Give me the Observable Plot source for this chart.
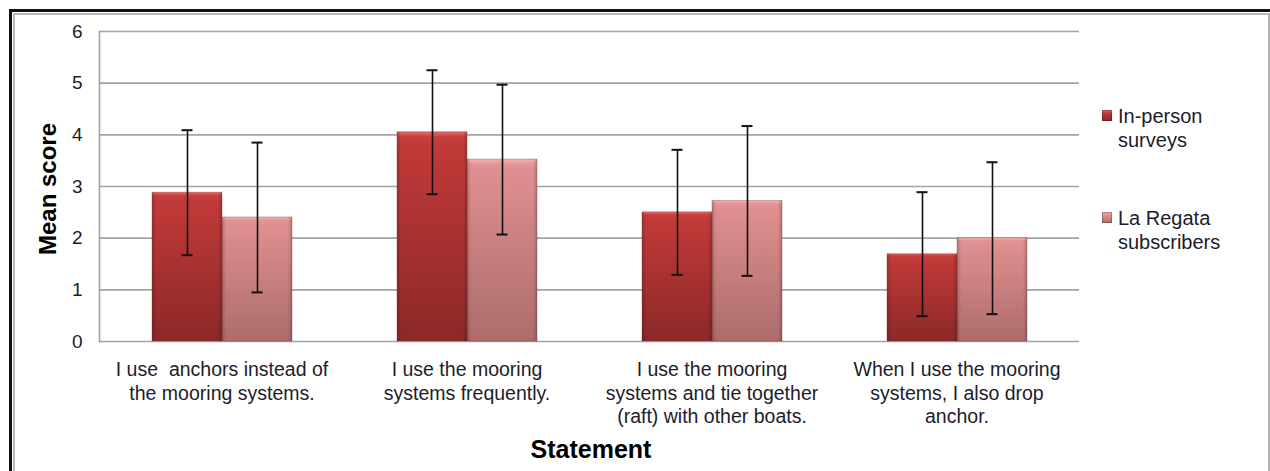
<!DOCTYPE html>
<html>
<head>
<meta charset="utf-8">
<script src="https://cdn.jsdelivr.net/npm/d3@7"></script>
<script src="https://cdn.jsdelivr.net/npm/@observablehq/plot@0.6"></script>
<style>
  html, body { margin: 0; padding: 0; background: #fff; }
  #wrap { position: relative; width: 1270px; height: 471px; overflow: hidden; font-family: "Liberation Sans", Arial, sans-serif; color: #1c1c2c; }
  #outer1 { position: absolute; left: 9px; top: 9px; width: 1300px; height: 600px; border-top: 3px solid #111; border-left: 3px solid #111; }
  #outer2 { position: absolute; left: 13px; top: 13px; width: 1253px; height: 600px; border-top: 2px solid #b8b8b8; border-left: 2px solid #b8b8b8; border-right: 3px solid #b0b0b0; }
  #chart { position: absolute; left: 0; top: 0; }
  #ytitle { position: absolute; left: 48px; top: 189px; transform: translate(-50%, -50%) rotate(-90deg); font-weight: bold; font-size: 24px; white-space: nowrap; color: #000; }
  #xtitle { position: absolute; left: 591px; top: 449px; transform: translate(-50%, -50%); font-weight: bold; font-size: 25px; white-space: nowrap; color: #000; }
  #legend { position: absolute; left: 1102px; top: 104px; font-size: 20px; line-height: 24px; }
  .item { position: relative; padding-left: 16px; margin-bottom: 54px; }
  .sw { position: absolute; left: 0; top: 6px; width: 10px; height: 11px; box-shadow: inset 0 0 0 1px rgba(0,0,0,0.25); }
</style>
</head>
<body>
<div id="wrap">
  <div id="outer1"></div>
  <div id="outer2"></div>
  <div id="chart"></div>
  <div id="ytitle">Mean score</div>
  <div id="xtitle">Statement</div>
  <div id="legend"></div>
</div>
<script>
const categories = [
  "I use anchors instead of the mooring systems.",
  "I use the mooring systems frequently.",
  "I use the mooring systems and tie together (raft) with other boats.",
  "When I use the mooring systems, I also drop anchor."
];
const tickLabels = [
  "I use  anchors instead of\nthe mooring systems.",
  "I use the mooring\nsystems frequently.",
  "I use the mooring\nsystems and tie together\n(raft) with other boats.",
  "When I use the mooring\nsystems, I also drop\nanchor."
];
const series = ["In-person surveys", "La Regata subscribers"];
const legendLabels = ["In-person<br>surveys", "La Regata<br>subscribers"];
const inPersonMean = [2.88, 4.05, 2.50, 1.69];
const inPersonSD   = [1.21, 1.20, 1.21, 1.20];
const laRegataMean = [2.40, 3.52, 2.72, 2.00];
const laRegataSD   = [1.45, 1.45, 1.45, 1.47];
const yTicks = [0, 1, 2, 3, 4, 5, 6];

const rows = [];
categories.forEach((c, i) => {
  rows.push({category: c, series: series[0], mean: inPersonMean[i], lo: inPersonMean[i] - inPersonSD[i], hi: inPersonMean[i] + inPersonSD[i]});
  rows.push({category: c, series: series[1], mean: laRegataMean[i], lo: laRegataMean[i] - laRegataSD[i], hi: laRegataMean[i] + laRegataSD[i]});
});

const gradIds = ["url(#gradA)", "url(#gradB)"];

const plot = Plot.plot({
  width: 1270,
  height: 471,
  marginLeft: 99,
  marginRight: 191,
  marginTop: 31,
  marginBottom: 130,
  style: {fontFamily: "'Liberation Sans', Arial, sans-serif", fontSize: "18px", color: "#1c1c2c", background: "transparent", overflow: "visible"},
  fx: {domain: categories, padding: 0, label: null},
  x: {domain: series, paddingInner: 0, paddingOuter: 0.7376, axis: null},
  y: {domain: [0, 6], label: null},
  color: {domain: series, range: gradIds},
  marks: [
    Plot.gridY(yTicks, {stroke: "#a3a3a3", strokeOpacity: 1, strokeWidth: 1.6}),
    Plot.frame({anchor: "left", facetAnchor: "left", stroke: "#a3a3a3", strokeWidth: 1.6}),
    Plot.axisY(yTicks, {tickSize: 0, tickPadding: 17, fontSize: 19, label: null, tickFormat: (d) => String(d)}),
    Plot.axisFx({anchor: "bottom", tickSize: 0, tickPadding: 17, fontSize: 19.5, lineHeight: 1.23, label: null,
      tickFormat: (d) => tickLabels[categories.indexOf(d)]}),
    Plot.barY(rows, {fx: "category", x: "series", y: "mean", fill: "series"}),
    Plot.barY(rows, {fx: "category", x: "series", y: "mean", fill: "url(#side)"}),
    Plot.barY(rows, {fx: "category", x: "series", y: "mean", fill: "none", stroke: "#7a2a2a", strokeOpacity: 0.35, strokeWidth: 1}),
    Plot.ruleX(rows, {fx: "category", x: "series", y1: "lo", y2: "hi", stroke: "#111", strokeWidth: 1.6}),
    Plot.tickY(rows, {fx: "category", x: "series", y: "hi", stroke: "#111", strokeWidth: 2, insetLeft: 29.5, insetRight: 29.5}),
    Plot.tickY(rows, {fx: "category", x: "series", y: "lo", stroke: "#111", strokeWidth: 2, insetLeft: 29.5, insetRight: 29.5})
  ]
});

const svg = d3.select(plot);
const defs = svg.insert("defs", ":first-child");
function vgrad(id, stops) {
  const g = defs.append("linearGradient").attr("id", id).attr("x1", 0).attr("y1", 0).attr("x2", 0).attr("y2", 1);
  stops.forEach(([o, c]) => g.append("stop").attr("offset", o).attr("stop-color", c));
}
vgrad("gradA", [[0, "#e66a68"], [0.025, "#c63f3d"], [0.06, "#c13a39"], [1, "#8c2828"]]);
vgrad("gradB", [[0, "#f4b4b3"], [0.025, "#e39695"], [0.06, "#df8f8f"], [1, "#ad6c6c"]]);
const side = defs.append("linearGradient").attr("id", "side").attr("x1", 0).attr("y1", 0).attr("x2", 1).attr("y2", 0);
[[0, "rgba(0,0,0,0.18)"], [0.06, "rgba(0,0,0,0)"], [0.94, "rgba(0,0,0,0)"], [1, "rgba(0,0,0,0.18)"]].forEach(([o, c]) =>
  side.append("stop").attr("offset", o).attr("stop-color", c));

document.getElementById("chart").appendChild(plot);

const legend = document.getElementById("legend");
series.forEach((s, i) => {
  const item = document.createElement("div");
  item.className = "item";
  const sw = document.createElement("div");
  sw.className = "sw";
  sw.style.background = i === 0 ? "linear-gradient(#e66a68, #c13a39 30%, #8c2828)" : "linear-gradient(#f4b4b3, #df8f8f 30%, #ad6c6c)";
  item.appendChild(sw);
  const t = document.createElement("div");
  t.innerHTML = legendLabels[i];
  item.appendChild(t);
  legend.appendChild(item);
});
</script>
</body>
</html>
